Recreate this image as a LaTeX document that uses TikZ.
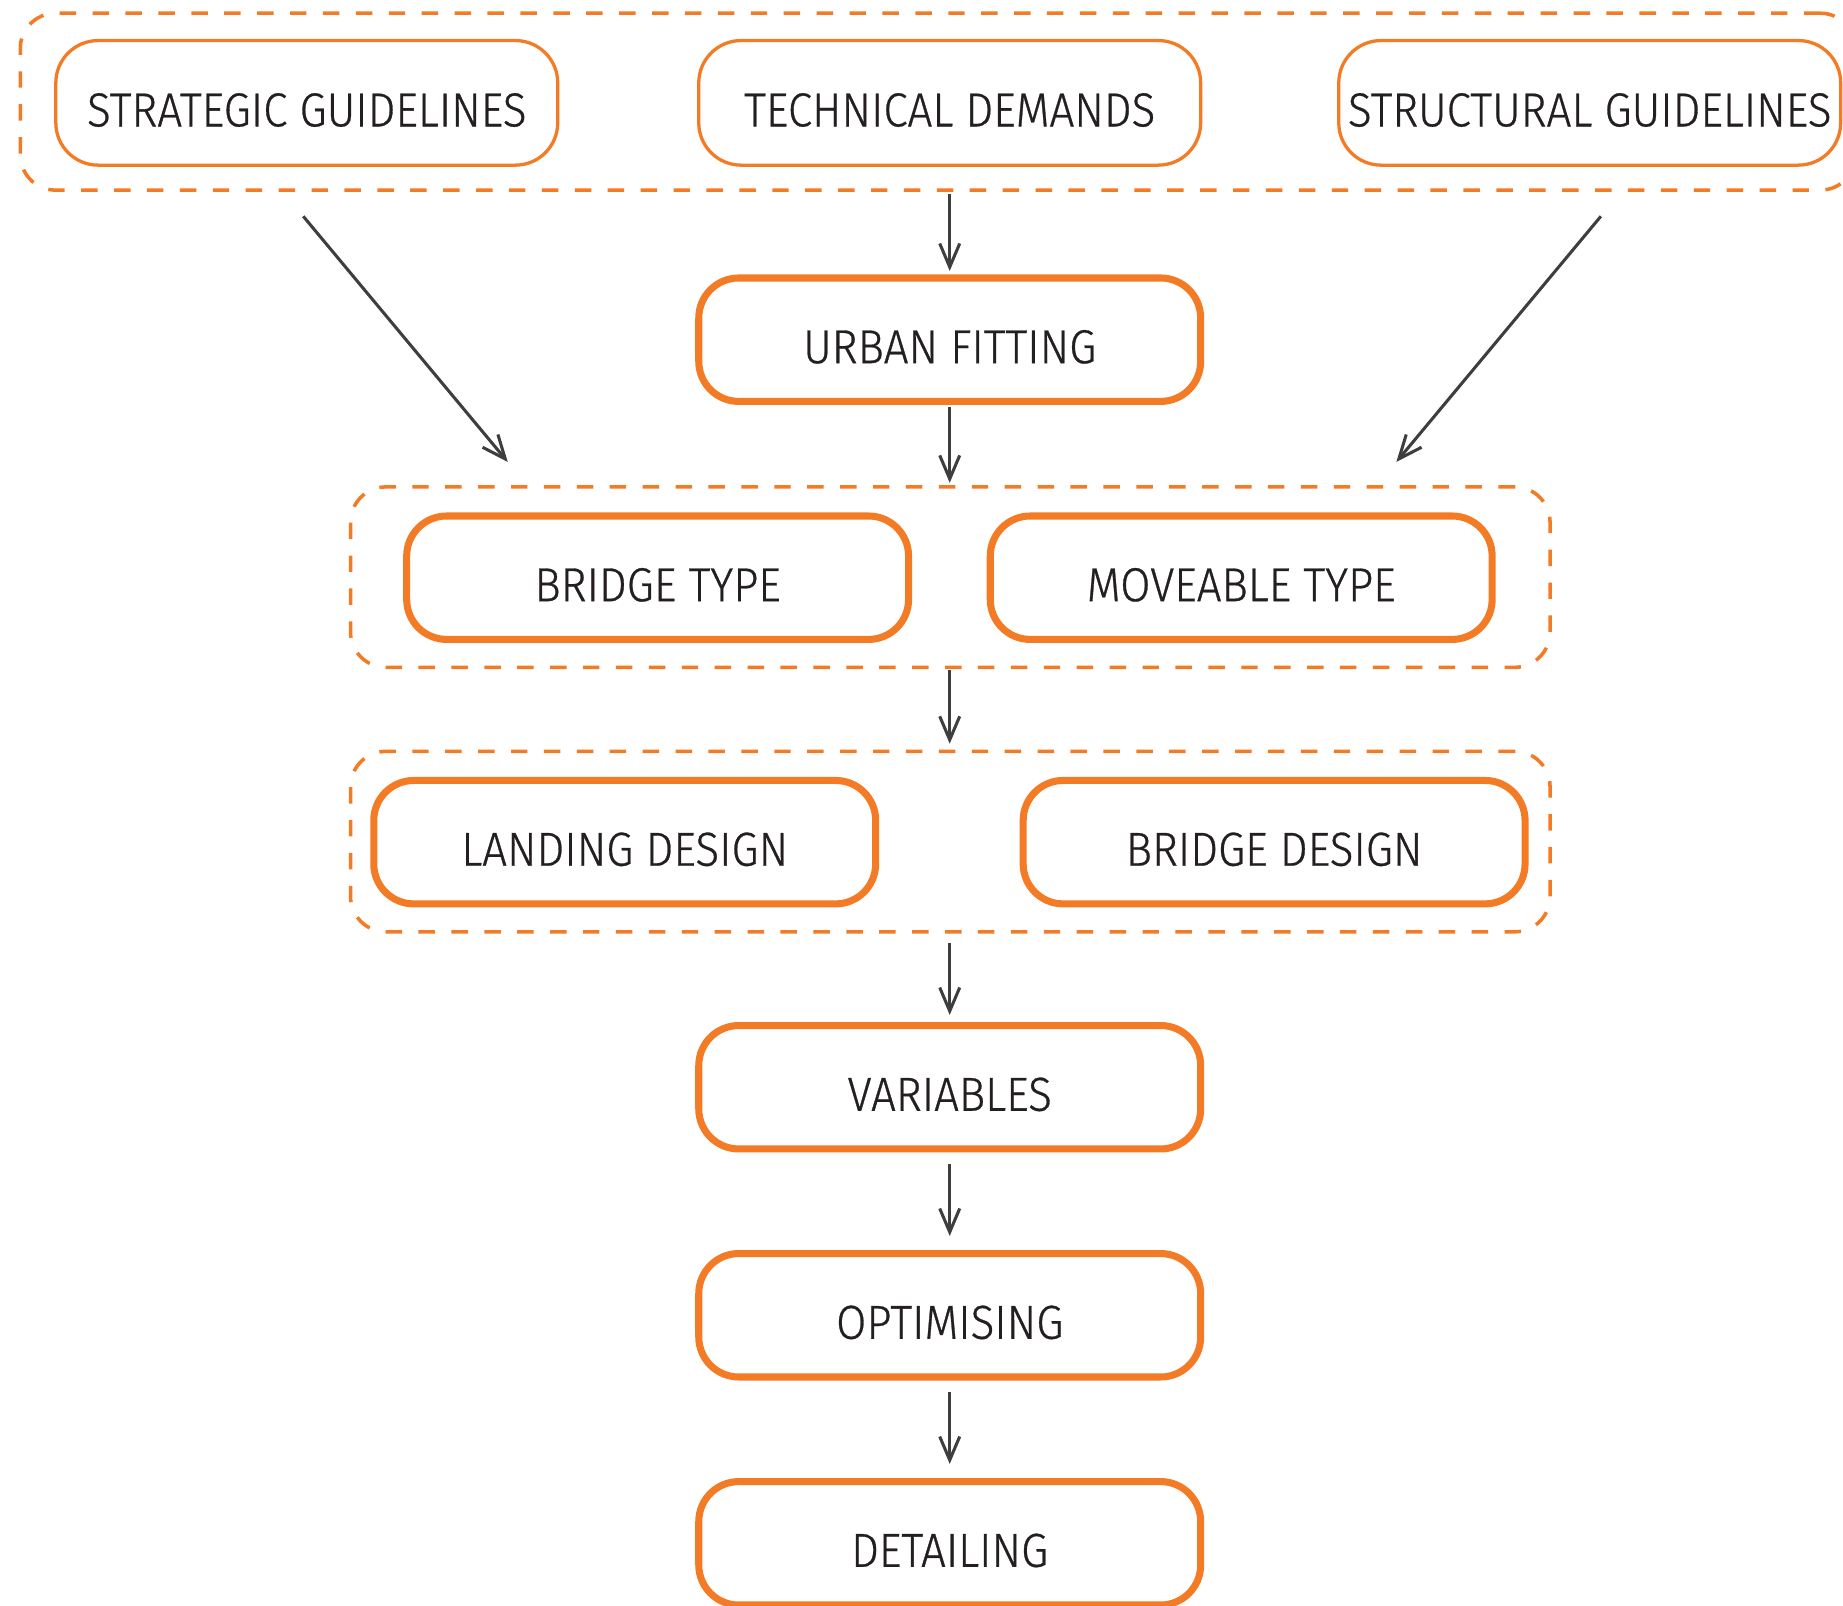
\documentclass[tikz,border=0pt]{standalone}
\usepackage{fontspec}
\setmainfont{Fira Sans Light}[FakeStretch=0.92, FakeBold=0.6]
\usetikzlibrary{arrows.meta}
\definecolor{accent}{RGB}{244,123,38}
\definecolor{ink}{RGB}{35,31,32}
\definecolor{wire}{RGB}{62,62,62}

\begin{document}
\begin{tikzpicture}[x=1pt,y=-1pt,
  boxtext/.style={font=\fontsize{40.6}{48}\selectfont, text=ink,
    text height=40pt, text depth=0pt, inner sep=0pt},
  thinbox/.style={boxtext, draw=accent, line width=2.8pt, rounded corners=36pt,
    minimum width=427pt, minimum height=106pt},
  thickbox/.style={boxtext, draw=accent, line width=6pt, rounded corners=34pt,
    minimum width=427pt, minimum height=105pt},
  group/.style={draw=accent, line width=3pt, dash pattern=on 14pt off 14pt,
    rounded corners=30pt, inner sep=0pt},
  flow/.style={draw=wire, line width=2.6pt, -{Straight Barb[length=20pt,width=17pt]}}
]
\useasboundingbox (0,0) rectangle (1568,1366);

% dashed groups
\node[group, minimum width=1561.5pt, minimum height=150.5pt] (g1) at (798,86.5) {};
\node[group, minimum width=1020.5pt, minimum height=153.5pt] (g2) at (808.5,491) {};
\node[group, minimum width=1020.5pt, minimum height=153.5pt] (g3) at (808.5,716) {};

% inputs
\node[thinbox] (strat) at (261,87.5) {STRATEGIC GUIDELINES};
\node[thinbox] (tech) at (808,87.5) {TECHNICAL DEMANDS};
\node[thinbox] (struct) at (1352.5,87.5) {STRUCTURAL GUIDELINES};

% process steps
\node[thickbox] (urban) at (808,289) {URBAN FITTING};
\node[thickbox] (btype) at (559.5,491.5) {BRIDGE TYPE};
\node[thickbox] (mtype) at (1056,491.5) {MOVEABLE TYPE};
\node[thickbox] (land) at (531.5,716.5) {LANDING DESIGN};
\node[thickbox] (bdes) at (1084,716.5) {BRIDGE DESIGN};
\node[thickbox] (var) at (808,925) {VARIABLES};
\node[thickbox] (opt) at (808,1119) {OPTIMISING};
\node[thickbox] (det) at (808,1313) {DETAILING};

% connectors
\draw[flow, shorten <=2pt, shorten >=3pt] (g1.south -| urban.north) -- (urban.north);
\draw[flow, shorten <=2pt, shorten >=2pt] (urban.south) -- (g2.north -| urban.south);
\draw[flow, shorten <=1pt, shorten >=5pt] (g2.south -| urban.south) -- (g3.north -| urban.south);
\draw[flow, shorten <=8pt, shorten >=6pt] (g3.south -| var.north) -- (var.north);
\draw[flow, shorten <=10pt, shorten >=12pt] (var.south) -- (opt.north);
\draw[flow, shorten <=10pt, shorten >=12pt] (opt.south) -- (det.north);

\coordinate (sfrom) at (258,184);
\coordinate (sto) at (432,393);
\coordinate (tfrom) at (1362,184);
\coordinate (tto) at (1188,393);
\draw[flow] (sfrom) -- (sto);
\draw[flow] (tfrom) -- (tto);
\end{tikzpicture}
\end{document}
